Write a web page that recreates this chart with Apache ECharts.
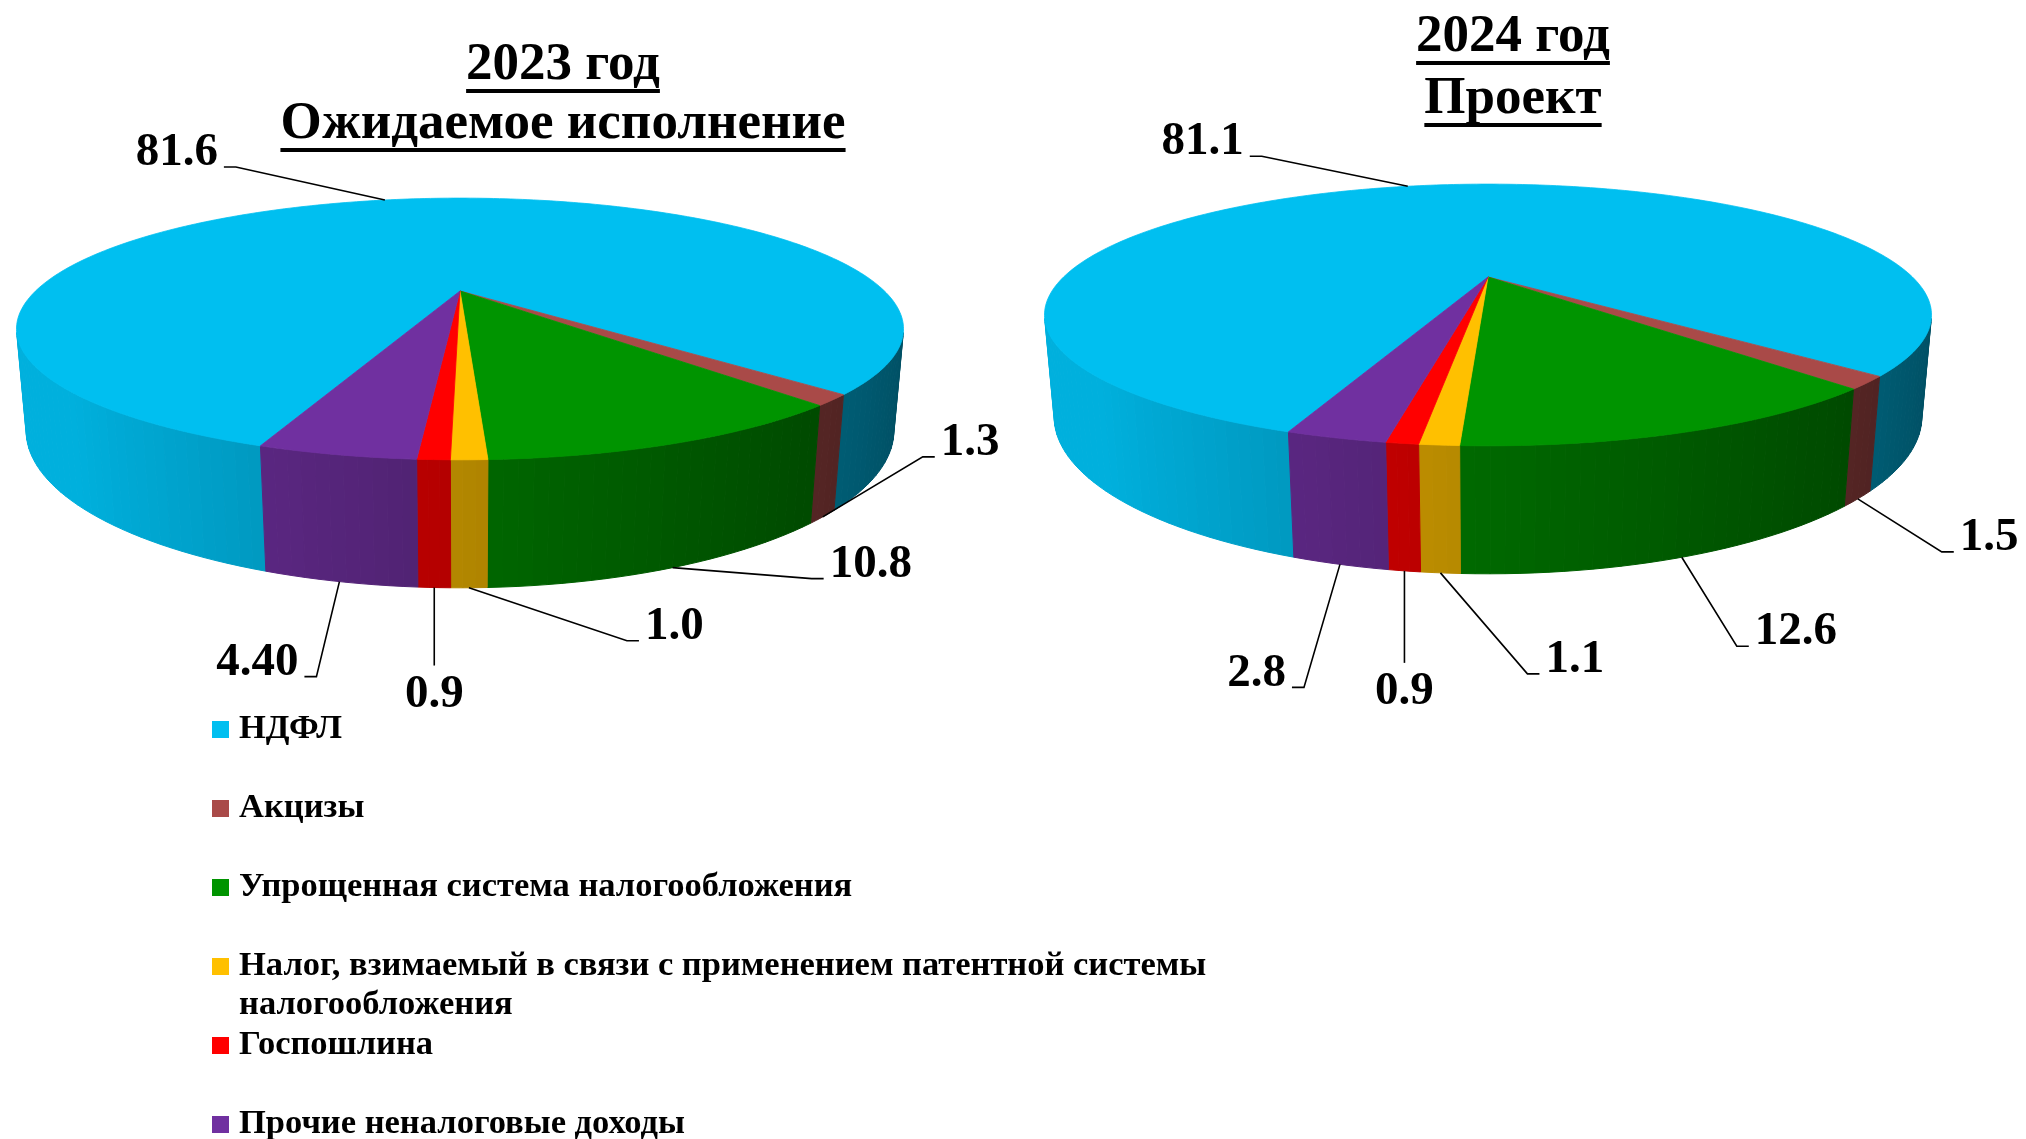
<!DOCTYPE html>
<html>
<head>
<meta charset="utf-8">
<script src="https://cdn.jsdelivr.net/npm/echarts@6/dist/echarts.min.js"></script>
<style>
  html, body { margin: 0; padding: 0; background: #fff; }
  #chart { width: 2026px; height: 1139px; }
</style>
</head>
<body>
<div id="chart"></div>
<script>
// ---- data ----
const categories = [
  'НДФЛ',
  'Акцизы',
  'Упрощенная система налогообложения',
  'Налог, взимаемый в связи с применением патентной системы налогообложения',
  'Госпошлина',
  'Прочие неналоговые доходы'
];
const values2023 = [81.6, 1.3, 10.8, 1.0, 0.9, 4.40];
const values2024 = [81.1, 1.5, 12.6, 1.1, 0.9, 2.8];
const labels2023 = ['81.6', '1.3', '10.8', '1.0', '0.9', '4.40'];
const labels2024 = ['81.1', '1.5', '12.6', '1.1', '0.9', '2.8'];
const titles2023 = ['2023 год', 'Ожидаемое исполнение'];
const titles2024 = ['2024 год', 'Проект'];

// ---- styles / layout ----
const colors = ['#00BFF0', '#A94A48', '#009400', '#FFC000', '#FF0000', '#7030A0'];
const FONT_FAMILY = '"Liberation Serif", "Times New Roman", serif';
const TITLE_FONT = 53;
const LABEL_FONT = 47;
const LEGEND_FONT = 34.5;

// perspective of the 3D pie (unit radius)
const TILT = 16.4 * Math.PI / 180;
const CT = Math.cos(TILT), ST = Math.sin(TILT);
const DIST = 3.307;
const FOCAL = 1403.6;
const WALL = 0.238;
const VIS_LO = Math.acos(-1 / (DIST * CT)) * 180 / Math.PI;
const VIS_HI = 360 - VIS_LO;

const pieLayouts = [
  {
    center: [460, 291], startAngle: 200,
    titleX: 563, titleBaselines: [83, 142],
    labelOffsets: [[-149, -33], [100, -60], [139, 11], [158, 53], [0, 78], [-23, 95]]
  },
  {
    center: [1488, 277], startAngle: 200,
    titleX: 1513, titleBaselines: [55, 117],
    labelOffsets: [[-146, -30], [84, 53], [55, 89], [87, 101], [0, 92], [-36, 123]]
  }
];

function project(c, phiDeg, y, r) {
  const p = phiDeg * Math.PI / 180;
  const X = Math.sin(p) * r, Z = -Math.cos(p) * r;
  const yp = y * CT - Z * ST;
  const zp = Z * CT + y * ST;
  const d = DIST - zp;
  return [c[0] + FOCAL * X / d, c[1] - FOCAL * yp / d, zp];
}

function shade(hex, f) {
  const n = parseInt(hex.slice(1), 16);
  const r = Math.round(((n >> 16) & 255) * f);
  const g = Math.round(((n >> 8) & 255) * f);
  const b = Math.round((n & 255) * f);
  return 'rgb(' + r + ',' + g + ',' + b + ')';
}

function wallShade(phi) {
  const f = 0.7 - 0.3 * Math.sin(phi * Math.PI / 180);
  return Math.max(0.35, Math.min(0.92, f));
}

function buildPie(values, labels, layout) {
  const total = values.reduce((s, v) => s + v, 0);
  const starts = [];
  let acc = layout.startAngle;
  values.forEach(v => { starts.push(acc); acc += v / total * 360; });
  const c = layout.center;

  return {
    type: 'custom',
    coordinateSystem: 'none',
    silent: true,
    data: values,
    renderItem: function (params, api) {
      const i = params.dataIndex;
      const a0 = starts[i];
      const a1 = a0 + api.value(0) / total * 360;
      const color = colors[i];
      const children = [];

      // outer wall, front-facing part only
      [0, 360].forEach(k => {
        const b0 = Math.max(a0, VIS_LO + k), b1 = Math.min(a1, VIS_HI + k);
        if (b1 <= b0) return;
        const n = Math.max(1, Math.ceil((b1 - b0) / 1.5));
        for (let j = 0; j < n; j++) {
          const p1 = b0 + (b1 - b0) * j / n;
          const p2 = b0 + (b1 - b0) * (j + 1) / n;
          const t1 = project(c, p1, 0, 1), t2 = project(c, p2, 0, 1);
          const d2 = project(c, p2, -WALL, 1), d1 = project(c, p1, -WALL, 1);
          const fill = shade(color, wallShade((p1 + p2) / 2));
          children.push({
            type: 'polygon',
            z2: 10 + Math.round((t1[2] + 1) * 20),
            shape: { points: [t1.slice(0, 2), t2.slice(0, 2), d2.slice(0, 2), d1.slice(0, 2)] },
            style: { fill: fill, stroke: fill, lineWidth: 1 }
          });
        }
      });

      // top face
      const top = [c.slice()];
      const steps = Math.max(2, Math.ceil(a1 - a0));
      for (let j = 0; j <= steps; j++) {
        top.push(project(c, a0 + (a1 - a0) * j / steps, 0, 1).slice(0, 2));
      }
      children.push({
        type: 'polygon',
        z2: 100,
        shape: { points: top },
        style: { fill: color, stroke: color, lineWidth: 0.8 }
      });

      // label with leader line
      const mid = ((a0 + a1) / 2) % 360;
      const front = Math.cos(mid * Math.PI / 180) < 0;
      const anchor = project(c, mid, front ? -WALL : 0, 1);
      const off = layout.labelOffsets[i];
      const elbow = [anchor[0] + off[0], anchor[1] + off[1]];
      const font = { fontSize: LABEL_FONT, fontWeight: 'bold', fontFamily: FONT_FAMILY, fill: '#000' };
      let pts, tx, ty, align;
      if (off[0] === 0) {
        pts = [anchor.slice(0, 2), elbow];
        tx = elbow[0]; ty = elbow[1] + 29; align = 'center';
      } else {
        const dir = off[0] > 0 ? 1 : -1;
        pts = [anchor.slice(0, 2), elbow, [elbow[0] + dir * 12, elbow[1]]];
        tx = elbow[0] + dir * 18; ty = elbow[1] + 2 - 0.34 * LABEL_FONT;
        align = dir > 0 ? 'left' : 'right';
      }
      children.push({
        type: 'polyline', z2: 200,
        shape: { points: pts },
        style: { stroke: '#000', lineWidth: 1.6, fill: null }
      });
      children.push({
        type: 'text', z2: 210, x: tx, y: ty,
        style: Object.assign({ text: labels[i], align: align, verticalAlign: 'middle' }, font)
      });

      return { type: 'group', children: children };
    }
  };
}

// titles with underline
const measureCtx = document.createElement('canvas').getContext('2d');
function titleGraphics(lines, layout) {
  const font = 'bold ' + TITLE_FONT + 'px ' + FONT_FAMILY;
  measureCtx.font = font;
  const out = [];
  lines.forEach((line, k) => {
    const base = layout.titleBaselines[k];
    const w = measureCtx.measureText(line).width;
    out.push({
      type: 'text', x: layout.titleX, y: base - 0.3375 * TITLE_FONT,
      style: {
        text: line, fontSize: TITLE_FONT, fontWeight: 'bold', fontFamily: FONT_FAMILY,
        fill: '#000', align: 'center', verticalAlign: 'middle'
      }
    });
    out.push({
      type: 'rect',
      shape: { x: layout.titleX - w / 2, y: base + 6, width: w, height: 4 },
      style: { fill: '#000' }
    });
  });
  return out;
}

const chart = echarts.init(document.getElementById('chart'));

const option = {
  animation: false,
  backgroundColor: '#fff',
  legend: {
    orient: 'vertical',
    left: 212,
    top: 710,
    height: 600,
    padding: 0,
    itemGap: 1,
    itemWidth: 22,
    itemHeight: 78,
    icon: 'path://M0,11h17v17h-17z M21.9,0h0.1v0.1h-0.1z M21.9,77.9h0.1v0.1h-0.1z',
    selectedMode: false,
    data: categories,
    formatter: function (name) {
      return name.length > 60 ? name.replace(/ (\S+)$/, '\n$1') : name + '\n ';
    },
    textStyle: {
      fontFamily: FONT_FAMILY,
      fontWeight: 'bold',
      fontSize: LEGEND_FONT,
      lineHeight: 39,
      color: '#000'
    }
  },
  graphic: titleGraphics(titles2023, pieLayouts[0]).concat(titleGraphics(titles2024, pieLayouts[1])),
  series: [
    {
      // invisible source of legend entries
      type: 'pie',
      name: 'legend',
      radius: [0, 0],
      center: [-500, -500],
      silent: true,
      label: { show: false },
      labelLine: { show: false },
      data: categories.map((name, i) => ({
        name: name,
        value: values2023[i],
        itemStyle: { color: colors[i] }
      }))
    },
    buildPie(values2023, labels2023, pieLayouts[0]),
    buildPie(values2024, labels2024, pieLayouts[1])
  ]
};

chart.setOption(option);
</script>
</body>
</html>
